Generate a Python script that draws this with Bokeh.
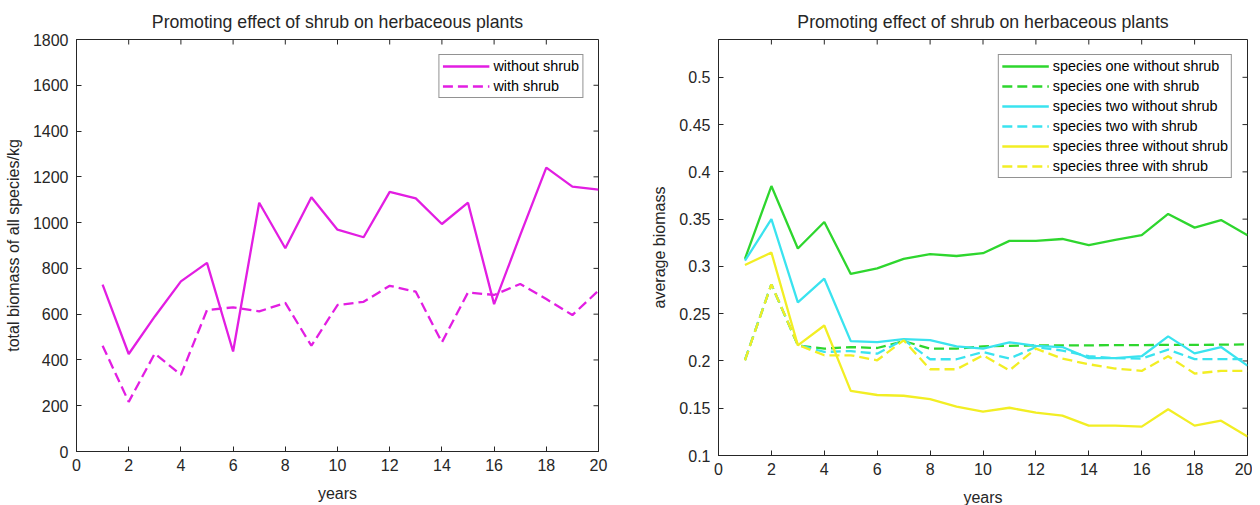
import math
from bokeh.plotting import figure
from bokeh.models import FixedTicker, Legend, LegendItem, Range1d
from bokeh.layouts import row
from bokeh.embed import file_html
from bokeh.resources import INLINE

# ---------------- data ----------------
years = list(range(1, 21))

total_without_shrub = [729, 426, 590, 743, 824, 437, 1087, 888, 1111, 969,
                       936, 1134, 1106, 994, 1087, 644, 945, 1240, 1157, 1144]
total_with_shrub = [462, 217, 428, 335, 618, 630, 612, 649, 462, 640,
                    654, 724, 698, 477, 695, 684, 732, 666, 596, 703]

sp1_without = [0.308, 0.385, 0.319, 0.347, 0.292, 0.298, 0.308, 0.313, 0.311, 0.314,
               0.327, 0.327, 0.329, 0.3225, 0.328, 0.333, 0.3555, 0.341, 0.349, 0.333]
sp1_with = [0.201, 0.281, 0.2165, 0.213, 0.2147, 0.2137, 0.221, 0.213, 0.213, 0.2154,
            0.216, 0.2165, 0.2165, 0.2165, 0.2168, 0.2168, 0.217, 0.217, 0.2172, 0.2175]
sp2_without = [0.306, 0.350, 0.262, 0.287, 0.221, 0.220, 0.223, 0.222, 0.2155, 0.213,
               0.2197, 0.216, 0.2147, 0.203, 0.203, 0.205, 0.226, 0.208, 0.2147, 0.195]
sp2_with = [0.201, 0.281, 0.217, 0.2095, 0.2105, 0.2077, 0.2225, 0.2018, 0.2018, 0.2095,
            0.2025, 0.2147, 0.211, 0.205, 0.203, 0.2025, 0.212, 0.202, 0.202, 0.202]
sp3_without = [0.3015, 0.3147, 0.2165, 0.2375, 0.1684, 0.164, 0.1632, 0.1596, 0.1516, 0.1463,
               0.1505, 0.1453, 0.1421, 0.1316, 0.1316, 0.1305, 0.149, 0.1316, 0.1368, 0.120]
sp3_with = [0.2007, 0.281, 0.217, 0.206, 0.206, 0.2007, 0.2218, 0.1912, 0.1912, 0.206,
            0.190, 0.213, 0.2025, 0.1965, 0.192, 0.1895, 0.205, 0.1867, 0.1895, 0.1895]

x_ticks = [0, 2, 4, 6, 8, 10, 12, 14, 16, 18, 20]
left_y_ticks = [0, 200, 400, 600, 800, 1000, 1200, 1400, 1600, 1800]
right_y_ticks = [0.1, 0.15, 0.2, 0.25, 0.3, 0.35, 0.4, 0.45, 0.5]
right_y_labels = ["0.1", "0.15", "0.2", "0.25", "0.3", "0.35", "0.4", "0.45", "0.5"]

title_text = "Promoting effect of shrub on herbaceous plants"
left_labels = ["without shrub", "with shrub"]
right_labels = ["species one without shrub", "species one with shrub",
                "species two without shrub", "species two with shrub",
                "species three without shrub", "species three with shrub"]

# ---------------- style ----------------
FONT = "Liberation Sans"
AX = "#262626"
MAGENTA = "#E21EE2"
GREEN = "#2ED62E"
CYAN = "#3AE3EF"
YELLOW = "#F2EE24"
LW = 2.3
DASH = "10 5"


def style(p, yticks, ylabel, overrides=None):
    p.title.text_font = FONT
    p.title.text_font_size = "17.7px"
    p.title.text_font_style = "normal"
    p.title.text_color = AX
    p.title.align = "center"
    p.title.standoff = 16
    p.outline_line_color = AX
    p.outline_line_width = 1
    p.xgrid.visible = False
    p.ygrid.visible = False
    p.background_fill_color = "white"
    p.border_fill_color = "white"
    p.xaxis.ticker = FixedTicker(ticks=x_ticks)
    p.yaxis.ticker = FixedTicker(ticks=yticks)
    if overrides:
        p.yaxis.major_label_overrides = overrides
    p.xaxis.axis_label = "years"
    p.yaxis.axis_label = ylabel
    for ax in p.xaxis + p.yaxis:
        ax.major_tick_in = 5
        ax.major_tick_out = 0
        ax.minor_tick_line_color = None
        ax.axis_line_color = AX
        ax.major_tick_line_color = AX
        ax.major_label_text_font = FONT
        ax.major_label_text_font_size = "16px"
        ax.major_label_text_color = AX
        ax.axis_label_text_font = FONT
        ax.axis_label_text_font_size = "16px"
        ax.axis_label_text_font_style = "normal"
        ax.axis_label_text_color = AX
    p.xaxis.major_label_standoff = 7
    p.yaxis.major_label_standoff = 8
    p.xaxis.axis_label_standoff = 11
    p.yaxis.axis_label_standoff = 8
    # box ticks on the top and right edges (mirror of the axis ticks)
    y_top = p.y_range.end
    x_right = p.x_range.end
    p.ray(x=x_ticks, y=[y_top] * len(x_ticks), length=5, length_units="screen",
          angle=-math.pi / 2, line_color=AX, line_width=1)
    p.ray(x=[x_right] * len(yticks), y=yticks, length=5, length_units="screen",
          angle=math.pi, line_color=AX, line_width=1)


def make_legend(p, items):
    leg = Legend(items=items, location="top_right")
    leg.label_text_font = FONT
    leg.label_text_font_size = "14.4px"
    leg.label_text_color = "#000000"
    leg.glyph_width = 47
    leg.glyph_height = 16
    leg.label_height = 16
    leg.label_standoff = 4
    leg.spacing = 4
    leg.padding = 3
    leg.margin = 15
    leg.border_line_color = AX
    leg.border_line_width = 1
    leg.background_fill_color = "white"
    leg.background_fill_alpha = 1
    p.add_layout(leg, "center")


# ---------------- left chart ----------------
p1 = figure(frame_width=522, frame_height=412,
            min_border_left=76, min_border_right=20, min_border_top=39, min_border_bottom=46,
            x_range=Range1d(0, 20), y_range=Range1d(0, 1800),
            title=title_text, output_backend="svg", toolbar_location=None)
style(p1, left_y_ticks, "total biomass of all species/kg")
r1 = p1.line(years, total_without_shrub, line_color=MAGENTA, line_width=LW)
r2 = p1.line(years, total_with_shrub, line_color=MAGENTA, line_width=LW, line_dash=DASH)
make_legend(p1, [LegendItem(label=left_labels[0], renderers=[r1]),
                 LegendItem(label=left_labels[1], renderers=[r2])])

# ---------------- right chart ----------------
p2 = figure(frame_width=529, frame_height=416,
            min_border_left=100, min_border_right=5, min_border_top=39, min_border_bottom=42,
            x_range=Range1d(0, 20), y_range=Range1d(0.1, 0.54),
            title=title_text, output_backend="svg", toolbar_location=None)
style(p2, right_y_ticks, "average biomass",
      overrides={t: l for t, l in zip(right_y_ticks, right_y_labels)})
series = [(sp1_without, GREEN, None), (sp1_with, GREEN, DASH),
          (sp2_without, CYAN, None), (sp2_with, CYAN, DASH),
          (sp3_without, YELLOW, None), (sp3_with, YELLOW, DASH)]
items = []
for (vals, col, dash), lab in zip(series, right_labels):
    if dash:
        r = p2.line(years, vals, line_color=col, line_width=LW, line_dash=dash)
    else:
        r = p2.line(years, vals, line_color=col, line_width=LW)
    items.append(LegendItem(label=lab, renderers=[r]))
make_legend(p2, items)

layout = row(p1, p2)
open("out.html", "w").write(file_html(layout, INLINE))
